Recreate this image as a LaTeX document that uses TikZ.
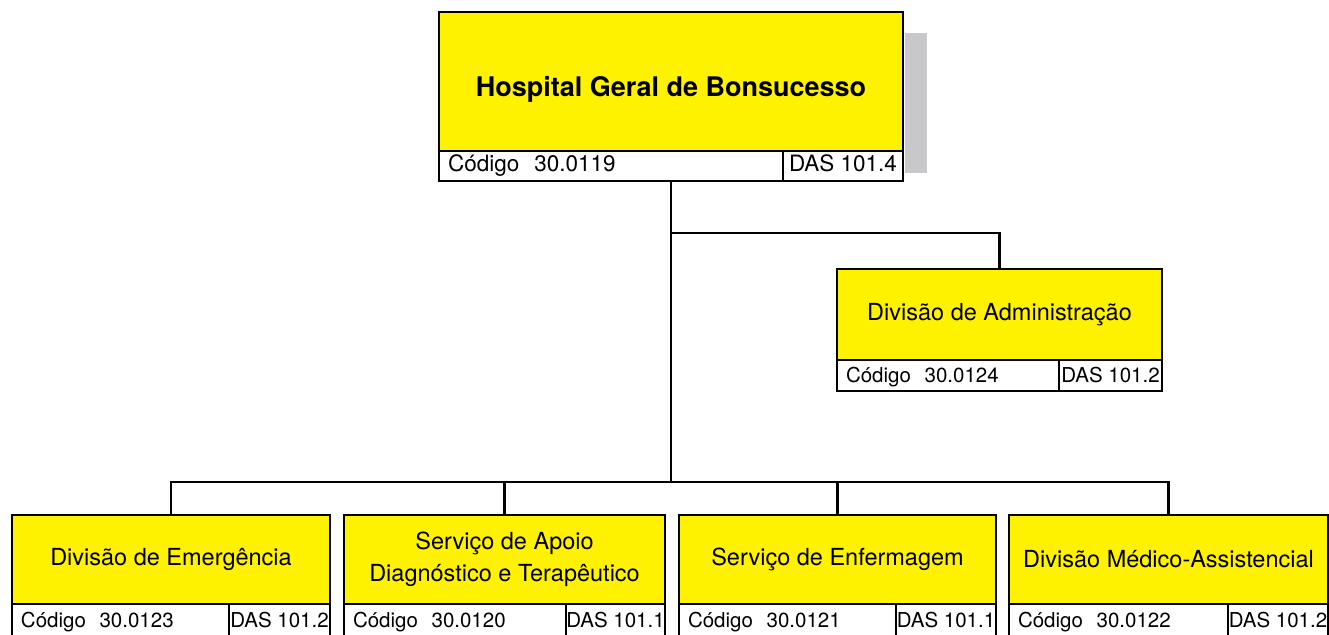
\documentclass[tikz,border=0pt]{standalone}
\usepackage{fontspec}
\setmainfont{TeX Gyre Heros}
\definecolor{boxyellow}{RGB}{255,242,0}
\definecolor{shadowgray}{RGB}{200,200,202}

\begin{document}
\begin{tikzpicture}[
  x=1pt, y=-1pt,
  line width=2.8pt,
  every node/.style={outer sep=0pt},
  unit/.style={draw,fill=boxyellow,inner sep=0pt,align=center,
    font=\fontsize{23.5}{32}\selectfont},
  cod/.style={draw,fill=white,anchor=north west,inner sep=0pt,
    minimum width=#1,text width=#1,minimum height=30pt,align=left,
    text height=15pt,text depth=2pt,
    execute at begin node=\hspace*{9pt},
    font=\fontsize{20.5}{24}\selectfont},
  das/.style={draw,fill=white,anchor=north west,inner sep=0pt,
    minimum width=#1,minimum height=30pt,
    text height=15pt,text depth=2pt,
    font=\fontsize{20.5}{24}\selectfont},
]
  \useasboundingbox (0,0) rectangle (1329,634);
  \fill[shadowgray] (905,33) rectangle (927,173);

  % top
  \node[unit,minimum width=464pt,minimum height=139pt,
    text height=29pt,text depth=0pt,
    font=\bfseries\fontsize{27}{32}\selectfont] (hgb) at (671,81.5)
    {Hospital Geral de Bonsucesso};
  \node[cod=344pt,text depth=4pt,font=\fontsize{22.5}{26}\selectfont] (hgbcod) at (hgb.south west) {Código~~30.0119};
  \node[das=120pt,text depth=4pt,font=\fontsize{22.5}{26}\selectfont] (hgbdas) at (hgbcod.north east) {DAS 101.4};

  % administracao
  \node[unit,minimum width=325pt,minimum height=91pt] (adm) at (999.5,314.5)
    {Divisão de Administração};
  \node[cod=222pt,minimum height=31pt] (admcod) at (adm.south west) {Código~~30.0124};
  \node[das=103pt,minimum height=31pt] (admdas) at (admcod.north east) {DAS 101.2};

  % bottom row
  \node[unit,minimum width=318pt,minimum height=89pt] (emg) at (171,559.5)
    {Divisão de Emergência};
  \node[cod=217pt,minimum height=34pt] (emgcod) at (emg.south west) {Código~~30.0123};
  \node[das=101pt,minimum height=34pt] (emgdas) at (emgcod.north east) {DAS 101.2};

  \node[unit,minimum width=321pt,minimum height=89pt] (sadt) at (504.5,559.5)
    {Serviço de Apoio\\Diagnóstico e Terapêutico};
  \node[cod=222pt,minimum height=34pt] (sadtcod) at (sadt.south west) {Código~~30.0120};
  \node[das=99pt,minimum height=34pt] (sadtdas) at (sadtcod.north east) {DAS 101.1};

  \node[unit,minimum width=317pt,minimum height=89pt] (enf) at (837.5,559.5)
    {Serviço de Enfermagem};
  \node[cod=217pt,minimum height=34pt] (enfcod) at (enf.south west) {Código~~30.0121};
  \node[das=100pt,minimum height=34pt] (enfdas) at (enfcod.north east) {DAS 101.1};

  \node[unit,minimum width=319pt,minimum height=89pt] (dma) at (1168.5,559.5)
    {Divisão Médico-Assistencial};
  \node[cod=219pt,minimum height=34pt] (dmacod) at (dma.south west) {Código~~30.0122};
  \node[das=100pt,minimum height=34pt] (dmadas) at (dmacod.north east) {DAS 101.2};

  % connectors
  \coordinate (split) at (671,233);
  \coordinate (bar) at (671,482);
  \draw (hgb.south |- hgbcod.south) -- (bar);
  \draw (split) -| (adm.north);
  \draw (emg.north) |- (bar) -| (dma.north);
  \draw (sadt.north) -- (sadt.north |- bar);
  \draw (enf.north) -- (enf.north |- bar);
\end{tikzpicture}
\end{document}
